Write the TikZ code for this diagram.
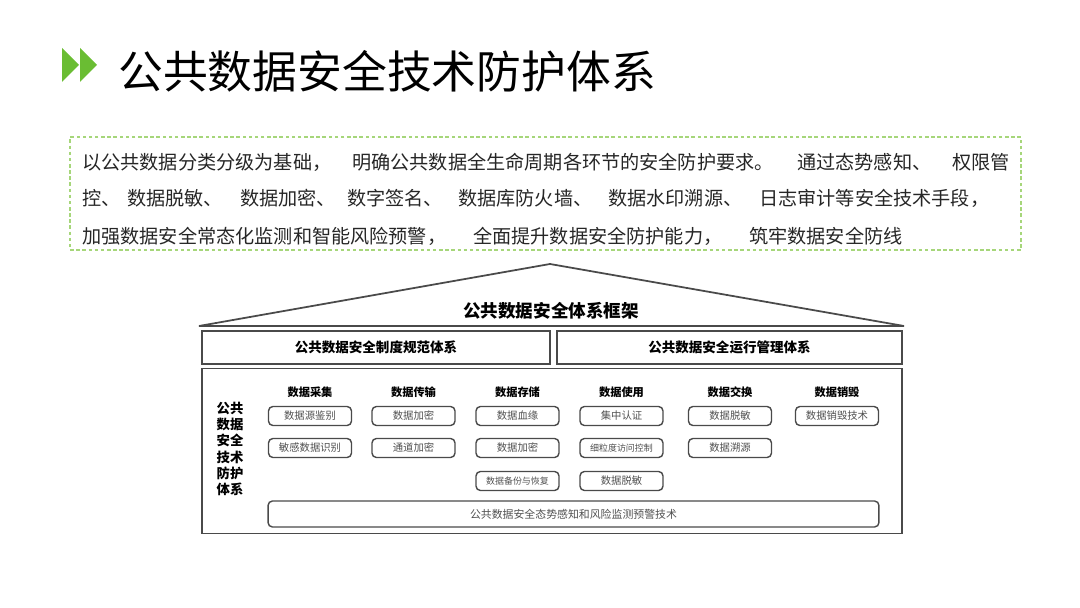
\documentclass[tikz,border=0pt]{standalone}
\usepackage{fontspec}
\setmainfont{Noto Sans CJK SC}
\usetikzlibrary{positioning}

\definecolor{arrowgreen}{HTML}{6ABD33}
\definecolor{framegreen}{HTML}{A6D67A}
\definecolor{linegray}{HTML}{4A4A4A}
\definecolor{textgray}{HTML}{262626}
\definecolor{boxtext}{HTML}{505050}

\begin{document}
\begin{tikzpicture}[x=0.02cm, y=-0.02cm,
		bodytext/.style={anchor=west, inner sep=0, text=textgray, font=\fontsize{10.9}{13}\selectfont},
		panel/.style={draw=linegray, line width=0.9pt, inner sep=0},
		colhead/.style={inner sep=0, font=\bfseries\fontsize{6.4}{7}\selectfont},
		techbox/.style={draw=linegray, line width=0.8pt, rounded corners=2.5pt, minimum width=1.66cm, minimum height=0.38cm, inner sep=0, text=boxtext, font=\fontsize{5.9}{7}\selectfont},
		smallbox/.style={techbox, font=\fontsize{5.1}{6}\selectfont}]
		\useasboundingbox (0, 0) rectangle (1080, 608);
		
		% title
		\foreach \x in {62, 80}
			\fill[arrowgreen] (\x, 48) -- ++(17, 17) -- ++(-17, 17) -- cycle;
		\node[anchor=west, inner sep=0, font=\fontsize{25.5}{30}\selectfont] (title) at (118, 71) {公共数据安全技术防护体系};
		
		% text frame
		\node[draw=framegreen, line width=0.8pt, dash pattern=on 2pt off 1.5pt, minimum width=19.02cm, minimum height=2.26cm] (frame) at (545.5, 193.5) {};
		\foreach \x/\t [count=\i] in {82/以公共数据分类分级为基础，, 352/明确公共数据全生命周期各环节的安全防护要求。, 797/通过态势感知、, 952/权限管}
			\node[bodytext] (la\i) at (\x, 162) {\t};
		\foreach \x/\t [count=\i] in {82/控、, 127/数据脱敏、, 240/数据加密、, 347/数字签名、, 458/数据库防火墙、, 608/数据水印溯源、, 759/日志审计等安全技术手段，}
			\node[bodytext] (lb\i) at (\x, 198) {\t};
		\foreach \x/\t [count=\i] in {82/加强数据安全常态化监测和智能风险预警，, 473/全面提升数据安全防护能力，, 749/筑牢数据安全防线}
			\node[bodytext] (lc\i) at (\x, 236) {\t};
		
		% roof
		\coordinate (apex) at (550, 264);
		\coordinate (eaveL) at (199, 326);
		\coordinate (eaveR) at (904, 326);
		\draw[linegray, line width=1pt, line join=miter] (eaveL) -- (apex) -- (eaveR) -- cycle;
		\node[inner sep=0, font=\bfseries\fontsize{10}{12}\selectfont] (roof) at (551, 311) {公共数据安全体系框架};
		
		% two systems
		\node[panel, minimum width=6.96cm, minimum height=0.66cm, font=\bfseries\fontsize{7.7}{9}\selectfont] (rules) at (376, 347.5) {公共数据安全制度规范体系};
		\node[panel, minimum width=6.9cm, minimum height=0.66cm, font=\bfseries\fontsize{7.7}{9}\selectfont] (ops) at (729.5, 347.5) {公共数据安全运行管理体系};
		
		% technical protection
		\node[panel, minimum width=14cm, minimum height=3.3cm] (tech) at (552, 451) {};
		\node[inner sep=0, align=center, font=\bfseries\fontsize{7.6}{9.3}\selectfont] (techlabel) at (230, 449) {公共\\数据\\安全\\技术\\防护\\体系};
		
		\foreach \x/\t [count=\i] in {310/数据采集, 413.5/数据传输, 517.5/数据存储, 621.5/数据使用, 730/数据交换, 837/数据销毁}
			\node[colhead] (head\i) at (\x, 392) {\t};
		
		\foreach \x/\t [count=\i] in {310/数据源鉴别, 413.5/数据加密, 517.5/数据血缘, 621.5/集中认证, 730/数据脱敏, 837/数据销毁技术}
			\node[techbox] (ra\i) at (\x, 416) {\t};
		\foreach \x/\t [count=\i] in {310/敏感数据识别, 413.5/通道加密, 517.5/数据加密, 730/数据溯源}
			\node[techbox] (rb\i) at (\x, 448) {\t};
		\node[smallbox] (access) at (621.5, 448) {细粒度访问控制};
		\node[smallbox] (backup) at (517.5, 481) {数据备份与恢复};
		\node[techbox] (mask) at (621.5, 481) {数据脱敏};
		
		\node[techbox, minimum width=12.22cm, minimum height=0.52cm, font=\fontsize{6.2}{7}\selectfont] (monitor) at (573.5, 514) {公共数据安全态势感知和风险监测预警技术};
	\end{tikzpicture}
\end{document}
